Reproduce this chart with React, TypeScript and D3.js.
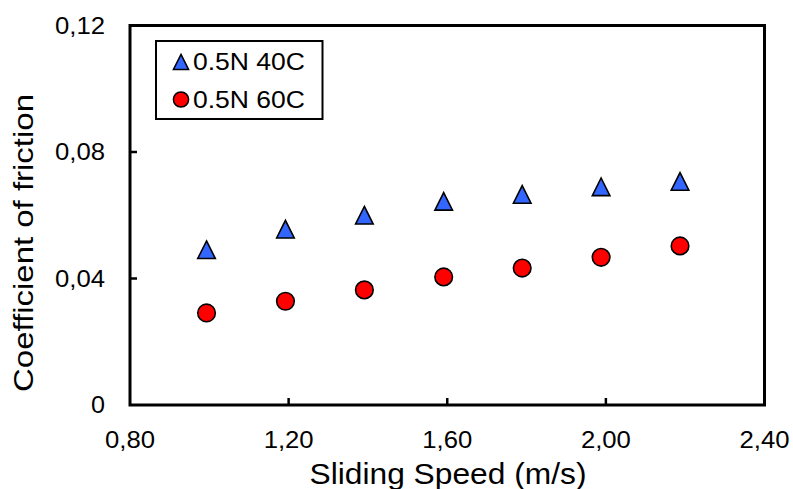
import React from "react";
import * as d3 from "d3";

const speeds = [0.993, 1.192, 1.391, 1.591, 1.789, 1.988, 2.187];
const cof40 = [0.0491, 0.0556, 0.06, 0.0644, 0.0666, 0.069, 0.0707];
const cof60 = [0.0291, 0.0328, 0.0364, 0.0405, 0.0433, 0.0467, 0.0503];
const xTicks = [0.8, 1.2, 1.6, 2.0, 2.4];
const yTicks = [0, 0.04, 0.08, 0.12];
const seriesNames = ["0.5N 40C", "0.5N 60C"];
const xTitle = "Sliding Speed (m/s)";
const yTitle = "Coefficient of friction";

const W = 793;
const H = 489;
const FONT = "'Liberation Sans', Arial, Helvetica, sans-serif";

const fmtX = (v: number) => v.toFixed(2).replace(".", ",");
const fmtY = (v: number) => (v === 0 ? "0" : v.toFixed(2).replace(".", ","));

const tri = (cx: number, cy: number, r: number) =>
  `M${cx},${cy - r}L${cx + r},${cy + r}L${cx - r},${cy + r}Z`;

export default function App() {
  const x = d3.scaleLinear().domain([0.8, 2.4]).range([130, 764.5]);
  const y = d3.scaleLinear().domain([0, 0.12]).range([405, 25.5]);
  const [x0, x1] = x.range();
  const [y0, y1] = y.range();

  return (
    <svg
      width={W}
      height={H}
      style={{ position: "absolute", left: 0, top: 0, background: "#fff" }}
      fontFamily={FONT}
    >
      <rect x={0} y={0} width={W} height={H} fill="#fff" />
      {/* ticks inside */}
      {xTicks.slice(1, -1).map((t) => (
        <line key={"xt" + t} x1={x(t)} x2={x(t)} y1={y0} y2={y0 - 7} stroke="#000" strokeWidth={2.5} />
      ))}
      {yTicks.slice(1, -1).map((t) => (
        <line key={"yt" + t} x1={x0} x2={x0 + 7} y1={y(t)} y2={y(t)} stroke="#000" strokeWidth={2.5} />
      ))}
      {/* frame */}
      <rect x={x0} y={y1} width={x1 - x0} height={y0 - y1} fill="none" stroke="#000" strokeWidth={3} />
      {/* tick labels */}
      {xTicks.map((t) => (
        <text
          key={"xl" + t}
          x={x(t)}
          y={448}
          fontSize={23}
          textAnchor="middle"
          textLength={50}
          lengthAdjust="spacingAndGlyphs"
          fill="#000"
        >
          {fmtX(t)}
        </text>
      ))}
      {yTicks.map((t) => (
        <text
          key={"yl" + t}
          x={105}
          y={y(t) + 8.3}
          fontSize={23}
          textAnchor="end"
          textLength={t === 0 ? 14 : 50}
          lengthAdjust="spacingAndGlyphs"
          fill="#000"
        >
          {fmtY(t)}
        </text>
      ))}
      {/* axis titles */}
      <text
        x={448}
        y={483.5}
        fontSize={30}
        textAnchor="middle"
        textLength={277}
        lengthAdjust="spacingAndGlyphs"
        fill="#000"
      >
        {xTitle}
      </text>
      <text
        transform={`translate(33,243) rotate(-90)`}
        fontSize={28}
        textAnchor="middle"
        textLength={298}
        lengthAdjust="spacingAndGlyphs"
        fill="#000"
      >
        {yTitle}
      </text>
      {/* data */}
      {speeds.map((s, i) => (
        <path
          key={"t" + i}
          d={tri(x(s), y(cof40[i]), 8.8)}
          fill="#3366ff"
          stroke="#000"
          strokeWidth={1.6}
          strokeLinejoin="miter"
        />
      ))}
      {speeds.map((s, i) => (
        <circle
          key={"c" + i}
          cx={x(s)}
          cy={y(cof60[i])}
          r={8.8}
          fill="#ff0000"
          stroke="#000"
          strokeWidth={1.6}
        />
      ))}
      {/* legend */}
      <rect x={156} y={41} width={166.5} height={78} fill="#fff" stroke="#000" strokeWidth={2} />
      <path d={tri(181, 62, 7.6)} fill="#3366ff" stroke="#000" strokeWidth={1.5} />
      <text x={193} y={69.5} fontSize={23} textLength={112} lengthAdjust="spacingAndGlyphs" fill="#000">
        {seriesNames[0]}
      </text>
      <circle cx={181} cy={99.5} r={7.6} fill="#ff0000" stroke="#000" strokeWidth={1.5} />
      <text x={193} y={107.5} fontSize={23} textLength={112} lengthAdjust="spacingAndGlyphs" fill="#000">
        {seriesNames[1]}
      </text>
    </svg>
  );
}
